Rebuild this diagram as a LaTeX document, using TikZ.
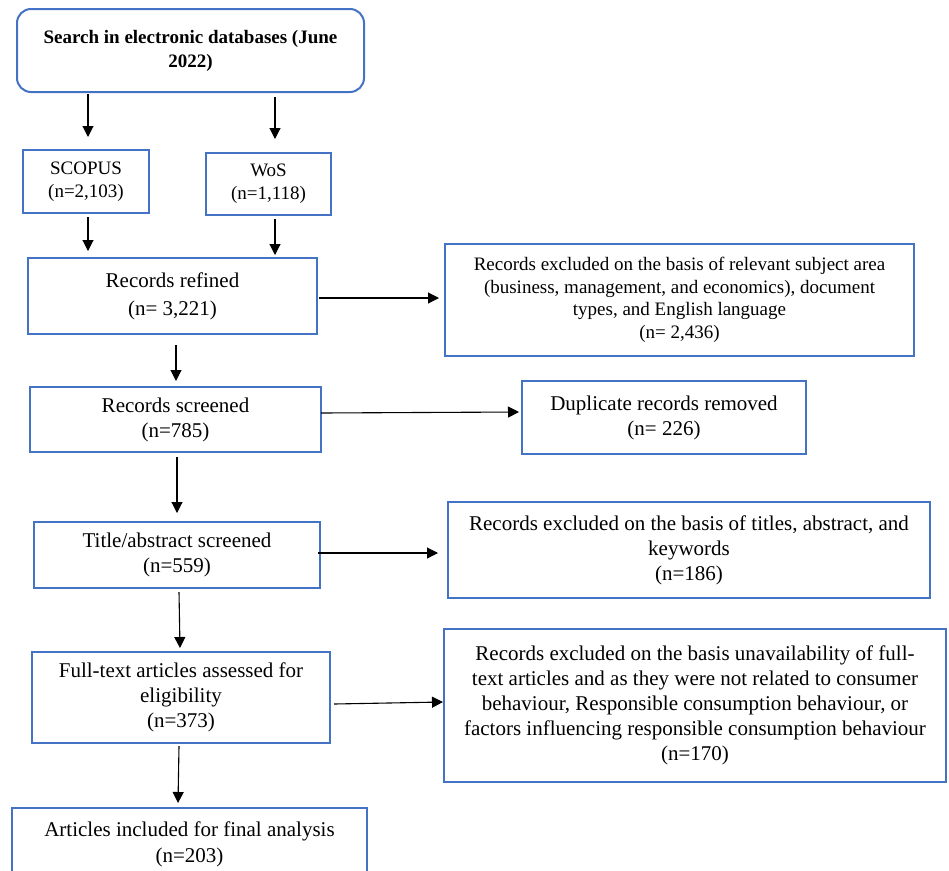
\documentclass[tikz,border=0pt]{standalone}
\usepackage{fontspec}
\setmainfont{Liberation Serif}
\usetikzlibrary{arrows.meta,calc}
\definecolor{boxblue}{RGB}{68,114,196}
\begin{document}
\begin{tikzpicture}[x=1pt,y=-1pt,
  box/.style={draw=boxblue,line width=2pt,inner sep=0pt,outer sep=0pt,align=center,text=black,font=\fontsize{21}{25}\selectfont},
  small/.style={font=\fontsize{19}{23}\selectfont},
  arr/.style={line width=1.1pt,-{Triangle[length=11pt,width=11pt]}}]
\useasboundingbox (0,0) rectangle (949,870);

\node[box,rounded corners=14pt,minimum width=347pt,minimum height=83pt,font=\fontsize{19}{24}\selectfont\bfseries] (search) at (190.5,50.5) {Search in electronic databases (June\\2022)};
\node[box,small,minimum width=126pt,minimum height=63pt] (scopus) at (86,181.5) {SCOPUS\\(n=2,103)};
\node[box,small,minimum width=125pt,minimum height=62pt] (wos) at (268.5,184) {WoS\\(n=1,118)};
\node[box,font=\fontsize{21}{28}\selectfont,minimum width=289pt,minimum height=76pt] (refined) at (172.5,296) {Records refined\\(n= 3,221)};
\node[box,font=\fontsize{19}{22.5}\selectfont,minimum width=469pt,minimum height=112pt] (excl1) at (679.5,300) {Records excluded on the basis of relevant subject area\\(business, management, and economics), document\\types, and English language\\(n= 2,436)};
\node[box,minimum width=291pt,minimum height=65pt] (screened) at (175.5,419.5) {Records screened\\(n=785)};
\node[box,minimum width=284pt,minimum height=73pt] (dup) at (664,417.5) {Duplicate records removed\\(n= 226)};
\node[box,minimum width=286pt,minimum height=66pt] (title) at (177,555) {Title/abstract screened\\(n=559)};
\node[box,minimum width=482pt,minimum height=96pt] (excl2) at (689,550) {Records excluded on the basis of titles, abstract, and\\keywords\\(n=186)};
\node[box,minimum width=298pt,minimum height=91pt] (full) at (181,697.5) {Full-text articles assessed for\\eligibility\\(n=373)};
\node[box,minimum width=502pt,minimum height=153pt] (excl3) at (695,705.5) {Records excluded on the basis unavailability of full-\\text articles and as they were not related to consumer\\behaviour, Responsible consumption behaviour, or\\factors influencing responsible consumption behaviour\\(n=170)};
\node[box,font=\fontsize{21}{26}\selectfont,minimum width=355pt,minimum height=72pt] (final) at (189.5,844) {Articles included for final analysis\\(n=203)};

\draw[arr] ($(search.south -| scopus.north)+(2,2)$) -- ($(scopus.north)+(2,-13)$);
\draw[arr] ($(search.south -| wos.north)+(6.5,5)$) -- ($(wos.north)+(6.5,-14)$);
\draw[arr] ($(scopus.south)+(2,4)$) -- ($(refined.north -| scopus.south)+(2,-7)$);
\draw[arr] ($(wos.south)+(6.5,4)$) -- ($(refined.north -| wos.south)+(6.5,-3)$);
\draw[arr] ($(refined.east)+(2,2)$) -- ($(excl1.west |- refined.east)+(-6,2)$);
\draw[arr] ($(refined.south)+(3.5,11)$) -- ($(screened.north)+(0.5,-6)$);
\draw[arr] ($(screened.east)+(0,-6.5)$) -- ($(dup.west)+(-3,-5.5)$);
\draw[arr] ($(screened.south)+(1.5,5)$) -- ($(title.north)+(0,-9)$);
\draw[arr] ($(title.east)+(-2,-2)$) -- ($(excl2.west |- title.east)+(-10,-2)$);
\draw[arr] ($(title.south)+(2,4)$) -- ($(full.north)+(-1,-4)$);
\draw[arr] ($(full.east)+(4,6.5)$) -- ($(excl3.west)+(-1,-3.5)$);
\draw[arr] ($(full.south)+(-2,3)$) -- ($(final.north)+(-11.5,-5)$);
\end{tikzpicture}
\end{document}
